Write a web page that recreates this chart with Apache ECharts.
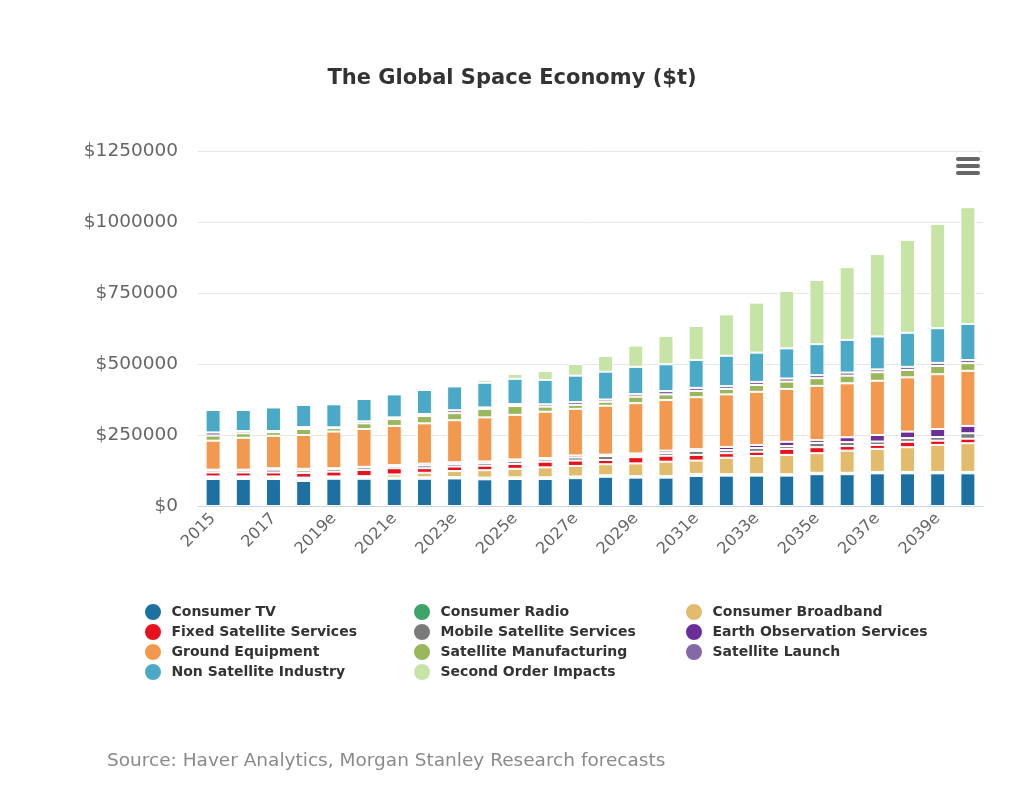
<!DOCTYPE html>
<html>
<head>
<meta charset="utf-8">
<script src="https://cdn.jsdelivr.net/npm/echarts@6/dist/echarts.min.js"></script>
<style>
html,body{margin:0;padding:0;background:#fff;}
#chart{width:1024px;height:798px;}
</style>
</head>
<body>
<div id="chart"></div>
<script>
const categories = ['2015','2016','2017','2018e','2019e','2020e','2021e','2022e','2023e','2024e','2025e','2026e','2027e','2028e','2029e','2030e','2031e','2032e','2033e','2034e','2035e','2036e','2037e','2038e','2039e','2040e'];
const yTicks = [0, 250000, 500000, 750000, 1000000, 1250000];

const consumerTV = [95000,95000,95000,88000,96000,96000,96000,96000,97000,94000,95000,95000,98000,103000,100000,100000,106000,107000,107000,107000,112000,112000,115000,115000,115000,115000];
const consumerRadio = [6000,6000,6000,7000,6000,6000,4000,5000,5000,6000,6000,6000,6000,5000,5000,5000,7000,5000,5000,5000,5000,5000,5000,5000,5000,5000];
const consumerBroadband = [3000,3000,3000,5000,2000,3000,11000,16000,21000,26000,30000,35000,37000,39000,45000,51000,47000,58000,64000,68000,69000,78000,81000,87000,95000,101000];
const fixedSatellite = [14000,14000,14000,16000,17000,22000,22000,16000,16000,16000,17000,20000,19000,15000,22000,21000,20000,16000,15000,21000,21000,16000,14000,19000,15000,16000];
const mobileSatellite = [7000,7000,10000,9000,9000,9000,8000,10000,9000,9000,10000,8000,11000,14000,8000,10000,14000,11000,13000,10000,15000,14000,12000,13000,13000,19000];
const earthObservation = [3000,3000,5000,6000,3000,2000,3000,6000,6000,6000,6000,5000,7000,5000,5000,8000,6000,11000,11000,15000,10000,17000,23000,23000,28000,26000];
const groundEquipment = [102000,112000,114000,119000,129000,133000,138000,142000,148000,155000,157000,163000,164000,172000,177000,178000,183000,185000,187000,186000,191000,190000,191000,191000,193000,194000];
const satelliteManufacturing = [18000,16000,13000,21000,12000,20000,24000,26000,25000,30000,31000,18000,14000,14000,23000,20000,22000,19000,24000,26000,27000,27000,30000,26000,29000,27000];
const satelliteLaunch = [11000,8000,4000,7000,3000,7000,6000,7000,10000,5000,7000,8000,10000,8000,9000,12000,11000,10000,11000,11000,11000,11000,10000,11000,11000,11000];
const nonSatellite = [79000,74000,83000,78000,81000,79000,81000,85000,84000,87000,89000,86000,93000,98000,96000,94000,98000,107000,103000,106000,109000,115000,116000,120000,122000,127000];
const secondOrder = [0,0,0,0,0,0,0,0,2000,10000,17000,31000,41000,55000,75000,100000,120000,146000,176000,202000,226000,256000,290000,327000,367000,411000];

const seriesDefs = [
  ['Consumer TV', consumerTV, '#1d70a2'],
  ['Consumer Radio', consumerRadio, '#3fa46a'],
  ['Consumer Broadband', consumerBroadband, '#e3bb6c'],
  ['Fixed Satellite Services', fixedSatellite, '#e8121f'],
  ['Mobile Satellite Services', mobileSatellite, '#7a7a7a'],
  ['Earth Observation Services', earthObservation, '#6a2f98'],
  ['Ground Equipment', groundEquipment, '#f3994f'],
  ['Satellite Manufacturing', satelliteManufacturing, '#9ab85b'],
  ['Satellite Launch', satelliteLaunch, '#8568a8'],
  ['Non Satellite Industry', nonSatellite, '#4ba9c8'],
  ['Second Order Impacts', secondOrder, '#c6e4a5']
];

const FONT = '"DejaVu Sans", "Open Sans", sans-serif';
const chart = echarts.init(document.getElementById('chart'), null, {renderer: 'canvas'});

const legendText = {fontFamily: FONT, fontWeight: 'bold', fontSize: 14, color: '#333', lineHeight: 18, padding: [0, 0, 0, 4]};
function legendCol(left, names) {
  return {
    orient: 'vertical', left: left, top: 602, itemGap: 0, padding: 0,
    icon: 'circle', itemWidth: 19, itemHeight: 18,
    textStyle: legendText, data: names, selectedMode: true
  };
}

chart.setOption({
  animation: false,
  backgroundColor: '#fff',
  title: {
    text: 'The Global Space Economy ($t)',
    left: 'center', top: 63,
    textStyle: {fontFamily: FONT, fontWeight: 'bold', fontSize: 21, color: '#333'}
  },
  legend: [
    legendCol(143, ['Consumer TV','Fixed Satellite Services','Ground Equipment','Non Satellite Industry']),
    legendCol(412, ['Consumer Radio','Mobile Satellite Services','Satellite Manufacturing','Second Order Impacts']),
    legendCol(684, ['Consumer Broadband','Earth Observation Services','Satellite Launch'])
  ],
  grid: {left: 198, right: 41, top: 151, bottom: 292, containLabel: false},
  xAxis: {
    type: 'category', data: categories,
    axisLine: {lineStyle: {color: '#ccd6eb'}},
    axisTick: {show: false},
    axisLabel: {
      interval: 1, rotate: 45, margin: 10,
      fontFamily: FONT, fontSize: 16, color: '#666'
    }
  },
  yAxis: {
    type: 'value', min: yTicks[0], max: yTicks[yTicks.length - 1], interval: 250000,
    axisLabel: {
      margin: 20, fontFamily: FONT, fontSize: 18.5, color: '#666',
      formatter: v => '$' + v
    },
    splitLine: {lineStyle: {color: '#e6e6e6'}},
    axisLine: {show: false}, axisTick: {show: false}
  },
  series: seriesDefs.map(([name, data, color]) => ({
    name: name, type: 'bar', stack: 'total', data: data,
    barWidth: 15,
    itemStyle: {color: color, borderColor: '#fff', borderWidth: 1},
    emphasis: {disabled: true}
  })),
  graphic: [
    {type: 'rect', shape: {x: 956, y: 157, width: 24, height: 4, r: 2}, style: {fill: '#666'}},
    {type: 'rect', shape: {x: 956, y: 164, width: 24, height: 4, r: 2}, style: {fill: '#666'}},
    {type: 'rect', shape: {x: 956, y: 171, width: 24, height: 4, r: 2}, style: {fill: '#666'}},
    {type: 'text', left: 107, top: 752, style: {
      text: 'Source: Haver Analytics, Morgan Stanley Research forecasts',
      fontFamily: FONT, fontSize: 18.5, fill: '#8a8a8a'
    }}
  ]
});
</script>
</body>
</html>
